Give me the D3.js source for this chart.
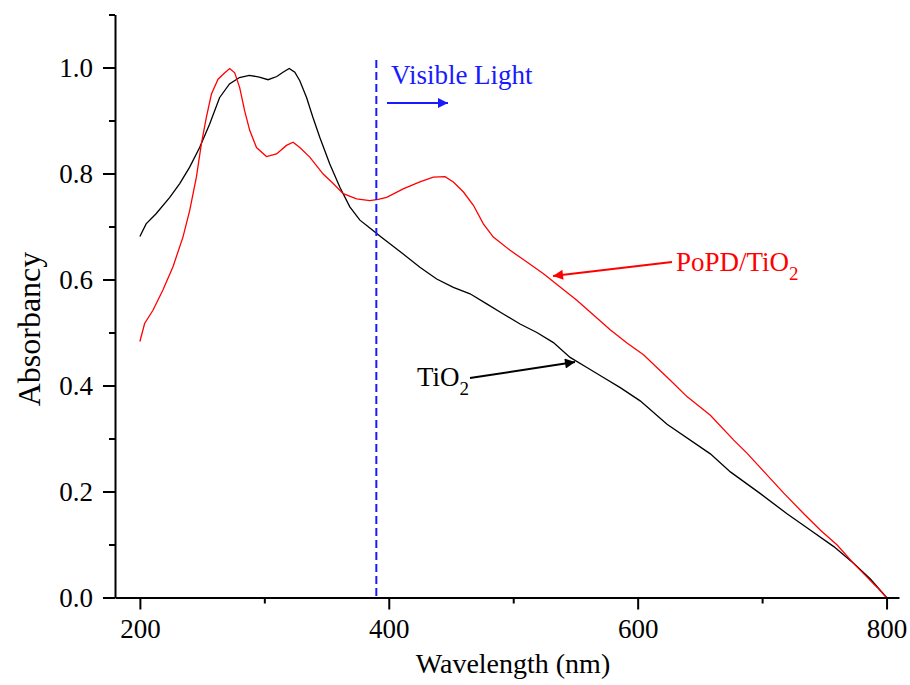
<!DOCTYPE html>
<html><head><meta charset="utf-8">
<script src="https://cdn.jsdelivr.net/npm/d3@7"></script>
<style>body{margin:0;background:#fff}svg{display:block}text{font-family:"Liberation Serif","Times New Roman",serif}</style>
</head><body><svg id="c" width="910" height="685"></svg>
<script>
// TiO2 spectrum (wavelength nm, absorbancy)
const tio2Wl = [200,205,213,224,232,240,248,256,264,272,280,288,296,303,310,315,320,324.5,328.5,334,339,344.6,352.6,360.7,368.7,376.8,384.8,392.8,411.6,425,438.5,451.9,465.3,478.7,492,505.5,519,532.3,545.7,559.2,572.5,586,602,623.6,658.4,674.5,698.6,720,738.9,757.6,773.7,787,800];
const tio2Abs = [0.681,0.705,0.724,0.755,0.781,0.812,0.849,0.893,0.943,0.969,0.981,0.985,0.982,0.977,0.983,0.991,0.998,0.991,0.975,0.943,0.906,0.868,0.818,0.774,0.737,0.712,0.697,0.682,0.648,0.623,0.601,0.585,0.573,0.554,0.535,0.516,0.500,0.481,0.453,0.434,0.415,0.396,0.371,0.327,0.271,0.237,0.196,0.158,0.127,0.096,0.064,0.035,0.0];
// PoPD/TiO2 spectrum
const popdWl = [200,203.8,210.5,218.5,226.6,234.6,240,245.4,249.4,253.4,257.5,262.8,268.2,272.2,276.2,280.2,284.2,288.3,293.7,301.7,309.8,317.8,323.1,328.5,336.5,347.3,355.3,363.4,374.1,384.8,391.5,398.3,411.6,425,435.8,445.2,451.9,460,468,476,484,497.5,511,524.3,537.7,551.1,564.5,577.9,591.4,604.7,626.2,639.6,658.4,677.2,688,701.3,717.4,733.5,746.9,760.3,773.7,784.5,792.5,800];
const popdAbs = [0.483,0.517,0.542,0.580,0.624,0.680,0.730,0.793,0.856,0.906,0.950,0.978,0.990,0.998,0.990,0.962,0.918,0.881,0.849,0.832,0.837,0.853,0.859,0.849,0.831,0.799,0.781,0.762,0.752,0.749,0.751,0.755,0.771,0.784,0.793,0.794,0.784,0.765,0.740,0.705,0.680,0.655,0.633,0.611,0.586,0.561,0.533,0.505,0.480,0.458,0.410,0.379,0.344,0.297,0.272,0.238,0.197,0.158,0.127,0.099,0.064,0.038,0.019,0.0];
const xMajor = [200,400,600,800];
const xMinor = [300,500,700];
const yMajor = [0,0.2,0.4,0.6,0.8,1.0];
const yMinor = [0.1,0.3,0.5,0.7,0.9,1.1];
const visibleEdge = 390;

const svg = d3.select("#c");
const x = d3.scaleLinear().domain([180,810]).range([115,899]);
const y = d3.scaleLinear().domain([0,1.1]).range([597.5,14.5]);

const line = d3.line().x(d=>x(d[0])).y(d=>y(d[1]));
svg.append("path").datum(d3.zip(tio2Wl,tio2Abs)).attr("d",line).attr("fill","none").attr("stroke","#000").attr("stroke-width",1.3);
svg.append("path").datum(d3.zip(popdWl,popdAbs)).attr("d",line).attr("fill","none").attr("stroke","#ff0000").attr("stroke-width",1.3);

// axes
svg.append("g").attr("transform",`translate(0,${y(0)})`)
  .call(d3.axisBottom(x).tickValues(xMajor).tickSize(12).tickSizeOuter(0).tickPadding(9).tickFormat(d3.format("d")));
svg.append("g").attr("transform",`translate(0,${y(0)})`)
  .call(d3.axisBottom(x).tickValues(xMinor).tickSize(6).tickSizeOuter(0).tickFormat(""))
  .select(".domain").remove();
svg.append("g").attr("transform",`translate(${x(180)},0)`)
  .call(d3.axisLeft(y).tickValues(yMajor).tickSize(12).tickSizeOuter(0).tickPadding(10).tickFormat(d3.format(".1f")));
svg.append("g").attr("transform",`translate(${x(180)},0)`)
  .call(d3.axisLeft(y).tickValues(yMinor).tickSize(6).tickSizeOuter(0).tickFormat(""))
  .select(".domain").remove();
svg.selectAll(".domain").attr("stroke","#000").attr("stroke-width",2);
svg.selectAll(".tick line").attr("stroke","#000").attr("stroke-width",2);
svg.selectAll(".tick text").attr("font-family","Liberation Serif").attr("font-size",27).attr("fill","#000");

svg.append("text").attr("x",513).attr("y",673).attr("text-anchor","middle").attr("font-size",28).text("Wavelength (nm)");
svg.append("text").attr("transform","translate(40,329) rotate(-90)").attr("text-anchor","middle").attr("font-size",32).text("Absorbancy");

// markers
const defs = svg.append("defs");
[["ab","#1a1aff"],["ar","#ff0000"],["ak","#000"]].forEach(([id,c])=>{
  defs.append("marker").attr("id",id).attr("viewBox","0 0 10 10").attr("refX",10).attr("refY",5)
    .attr("markerWidth",18).attr("markerHeight",10).attr("markerUnits","userSpaceOnUse").attr("orient","auto")
    .append("path").attr("d","M0,0 L10,5 L0,10 z").attr("fill",c);
});

// visible light line
svg.append("line").attr("x1",x(visibleEdge)).attr("x2",x(visibleEdge)).attr("y1",60).attr("y2",y(0))
  .attr("stroke","#1a1aff").attr("stroke-width",2).attr("stroke-dasharray","8,4");
svg.append("text").attr("x",391).attr("y",84).attr("fill","#1a1aff").attr("font-size",27).text("Visible Light");
svg.append("line").attr("x1",387).attr("x2",448).attr("y1",103).attr("y2",103).attr("stroke","#1a1aff").attr("stroke-width",2).attr("marker-end","url(#ab)");

// labels
const lr = svg.append("text").attr("x",676).attr("y",271).attr("fill","#ff0000").attr("font-size",27);
lr.append("tspan").text("PoPD/TiO");
lr.append("tspan").attr("font-size",19).attr("dy",9).text("2");
svg.append("line").attr("x1",672).attr("y1",262).attr("x2",553).attr("y2",276).attr("stroke","#ff0000").attr("stroke-width",2).attr("marker-end","url(#ar)");

const lk = svg.append("text").attr("x",417).attr("y",386).attr("fill","#000").attr("font-size",27);
lk.append("tspan").text("TiO");
lk.append("tspan").attr("font-size",19).attr("dy",9).text("2");
svg.append("line").attr("x1",470).attr("y1",378).attr("x2",575).attr("y2",362).attr("stroke","#000").attr("stroke-width",2).attr("marker-end","url(#ak)");
</script></body></html>
